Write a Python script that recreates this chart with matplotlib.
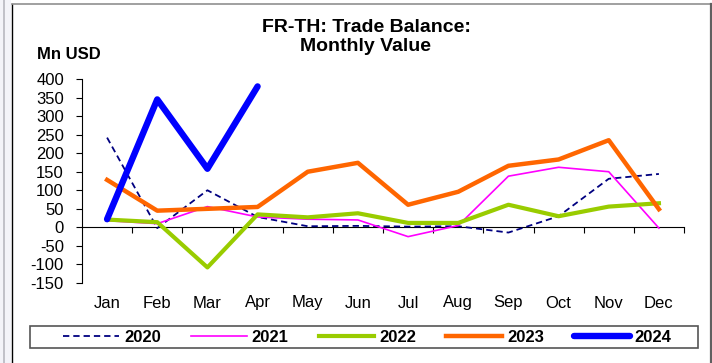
import matplotlib
matplotlib.use("Agg")
import matplotlib.pyplot as plt
from matplotlib.patches import Rectangle
from matplotlib.lines import Line2D

plt.rcParams['font.family'] = ['Liberation Sans', 'DejaVu Sans']
plt.rcParams['axes.unicode_minus'] = False

# Monthly trade balance, Mn USD
months = ['Jan', 'Feb', 'Mar', 'Apr', 'May', 'Jun',
          'Jul', 'Aug', 'Sep', 'Oct', 'Nov', 'Dec']
bal_2020 = [242, -2, 100, 28, 3, 4, 2, 3, -14, 30, 131, 144]
bal_2021 = [18, 10, 56, 28, 22, 20, -25, 5, 138, 162, 150, -2]
bal_2022 = [21, 14, -108, 35, 27, 38, 12, 12, 61, 30, 56, 65]
bal_2023 = [128, 45, 50, 55, 150, 174, 61, 96, 166, 183, 235, 49]
bal_2024 = [22, 345, 158, 380]

W, H = 712, 363
fig = plt.figure(figsize=(W / 100, H / 100), dpi=100)

# outer frame and the strip on the left
fig.patches.append(Rectangle((0, 0), 11 / W, 1, transform=fig.transFigure,
                             facecolor='#f3f3f9', edgecolor='none', zorder=0))
fig.add_artist(Line2D([3.5 / W, 3.5 / W], [0, 1], transform=fig.transFigure,
                      color='#b8b8c0', lw=1.2))
fig.add_artist(Line2D([11.5 / W, 11.5 / W], [0, 1 - 4 / H], transform=fig.transFigure,
                      color='black', lw=1))
fig.add_artist(Line2D([11.5 / W, 710.5 / W], [1 - 4 / H, 1 - 4 / H],
                      transform=fig.transFigure, color='#909090', lw=1.2))
fig.add_artist(Line2D([710.5 / W, 710.5 / W], [0, 1 - 4 / H], transform=fig.transFigure,
                      color='#606060', lw=1.6))

ax = fig.add_axes([82 / W, 80 / H, (684 - 82) / W, (284 - 80) / H])
x = list(range(len(months)))

ax.plot(x, bal_2020, color='#000080', lw=1.3, ls=(0, (3.5, 2.2)), label='2020')
ax.plot(x, bal_2021, color='#ff00ff', lw=1.2, label='2021')
ax.plot(x, bal_2022, color='#99cc00', lw=3.0, label='2022')
ax.plot(x, bal_2023, color='#ff6600', lw=3.2, label='2023')
ax.plot(x[:len(bal_2024)], bal_2024, color='#0000ff', lw=4.6,
        solid_capstyle='round', label='2024')

ax.set_xlim(-0.5, 11.5)
ax.set_ylim(-150, 400)
ax.set_yticks(range(-150, 401, 50))
ax.set_xticks(x)
ax.set_xticklabels(months)
ax.tick_params(axis='x', length=0, pad=9, labelsize=12)
ax.tick_params(axis='y', direction='out', length=4, width=0.8, pad=9, labelsize=12)

for s in ['top', 'right', 'bottom']:
    ax.spines[s].set_visible(False)
ax.spines['left'].set_linewidth(0.8)

# zero line with the category dividers
zero_pos = (0 - ax.get_ylim()[0]) / (ax.get_ylim()[1] - ax.get_ylim()[0])
sec = ax.secondary_xaxis(zero_pos)
sec.set_xticks([i + 0.5 for i in x])
sec.set_xticklabels([])
sec.tick_params(direction='out', length=4, width=0.8)
sec.spines['bottom'].set_linewidth(0.8)

fig.text(366 / W, 1 - 19 / H, 'FR-TH: Trade Balance:\nMonthly Value', ha='center',
         va='top', fontsize=14, fontweight='bold', linespacing=1.12)
fig.text(37 / W, 1 - 59 / H, 'Mn USD', ha='left', va='baseline',
         fontsize=12, fontweight='bold')

# legend box
fig.patches.append(Rectangle((30 / W, 1 - 348 / H), 668 / W, 22 / H,
                             transform=fig.transFigure, facecolor='white',
                             edgecolor='#555555', lw=1.2, zorder=1))
fig.legend(loc='center', bbox_to_anchor=(367.5 / W, 1 - 337 / H), ncol=5,
           frameon=False, prop={'weight': 'bold', 'size': 12},
           handlelength=3.35, handletextpad=0.3, columnspacing=1.8,
           borderpad=0, borderaxespad=0)

fig.savefig('out.png', dpi=100)
